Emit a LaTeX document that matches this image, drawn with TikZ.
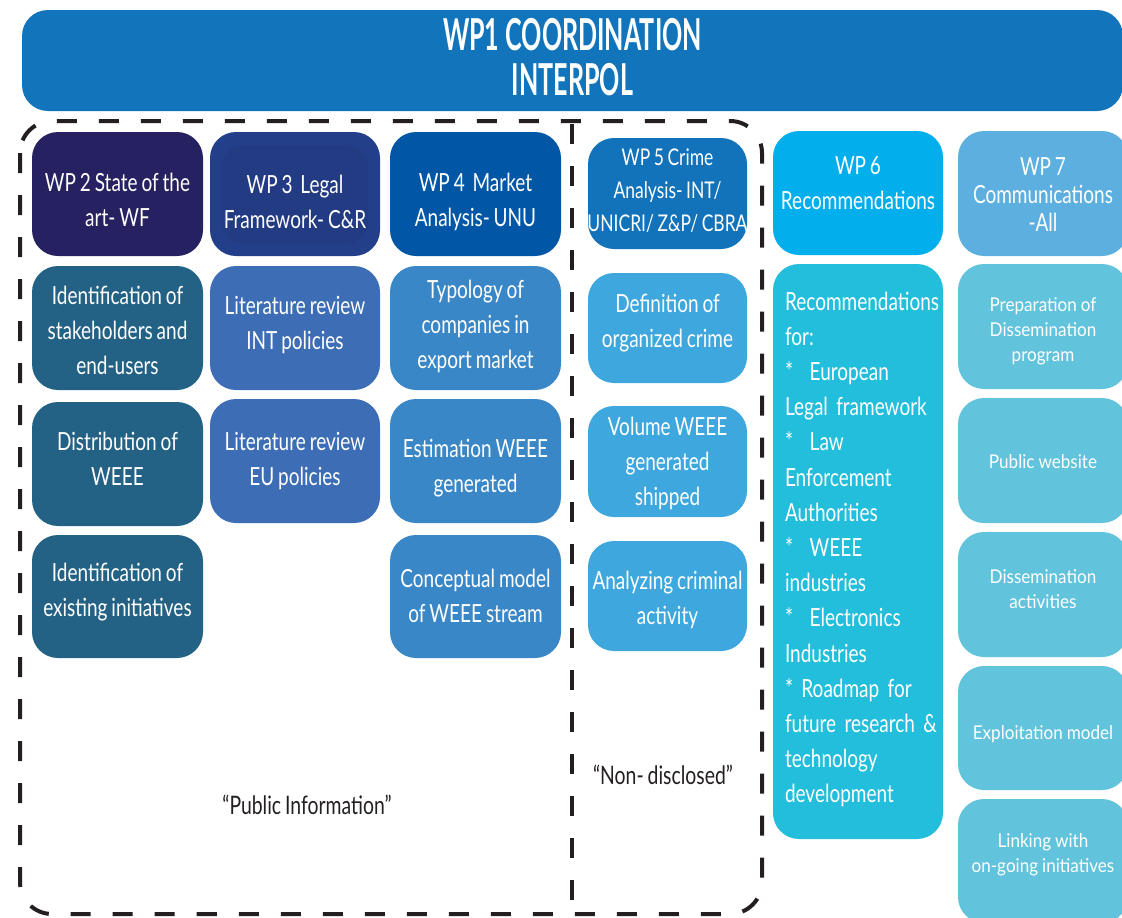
\documentclass[tikz,border=0pt]{standalone}
\usepackage{fontspec}
\setmainfont{Lato}
\newfontfamily\cond[FakeStretch=0.76,WordSpace=0.8]{Lato}
\newfontfamily\tcond[FakeStretch=0.57]{Lato}
\newfontfamily\semi[FakeStretch=0.9,WordSpace=0.9]{Lato}
\definecolor{ctitle}{HTML}{1275BC}
\definecolor{cwptwo}{HTML}{262160}
\definecolor{cone}{HTML}{236285}
\definecolor{cwpthree}{HTML}{243F8A}
\definecolor{cwpthreein}{HTML}{233B82}
\definecolor{ctwo}{HTML}{3D6DB5}
\definecolor{cwpfour}{HTML}{0157A6}
\definecolor{cthree}{HTML}{3A87C7}
\definecolor{cwpfive}{HTML}{1273BB}
\definecolor{cfour}{HTML}{3EA7DD}
\definecolor{cwpsix}{HTML}{02AEEB}
\definecolor{cfive}{HTML}{22BEDC}
\definecolor{cwpseven}{HTML}{5DAFE0}
\definecolor{csix}{HTML}{62C3DD}
\definecolor{cdash}{HTML}{231F20}
\begin{document}
\begin{tikzpicture}[x=1pt,y=-1pt,
  wpbox/.style={fill=#1, draw=none, rounded corners=26pt, inner sep=0pt},
  tx/.style={text=white, align=center, inner sep=0pt, font=\cond\fontsize{25}{35}\selectfont},
  smalltx/.style={tx, font=\semi\fontsize{19}{25}\selectfont},
  sz/.style n args={2}{minimum width=#1pt, minimum height=#2pt},
  dashline/.style={draw=cdash, line width=4pt, dash pattern=on 20pt off 22pt},
  plainlabel/.style={text=cdash, font=\cond\fontsize{25.5}{30}\selectfont, inner sep=0pt}
]
\useasboundingbox (0,0) rectangle (1122,918);
\clip (0,0) rectangle (1122,918);

% title
\node[wpbox=ctitle, sz={1101}{101}] (wp1) at (572.5,60.5) {};
\node[tx, font=\tcond\bfseries\fontsize{44}{45}\selectfont] (wp1t) at ([yshift=3.5pt]wp1.center)
  {WP1 COORDINATION\\INTERPOL};

% dashed frames
\draw[dashline, rounded corners=32pt] (20,121) rectangle (762,914);
\coordinate (divtop) at (572,124);
\coordinate (divbot) at (572,914);
\draw[dashline] (divtop) -- (divbot);

% column 1
\node[wpbox=cwptwo, sz={171}{124}] (wp2) at (117.5,194) {};
\node[tx] (wp2t) at ([yshift=-6pt]wp2.center) {WP 2 State of the\\art- WF};
\node[wpbox=cone, sz={171}{124}] (a1) at (117.5,328) {};
\node[tx] (a1t) at ([yshift=-2pt]a1.center) {Identification of\\stakeholders and\\end-users};
\node[wpbox=cone, sz={171}{124}] (a2) at (117.5,464) {};
\node[tx] (a2t) at ([yshift=5pt]a2.center) {Distribution of\\WEEE};
\node[wpbox=cone, sz={171}{123}] (a3) at (117.5,596.5) {};
\node[tx] (a3t) at ([yshift=4pt]a3.center) {Identification of\\existing initiatives};

% column 2
\node[wpbox=cwpthree, sz={170}{124}] (wp3) at (295,194) {};
\fill[cwpthreein, rounded corners=22pt] (222,145) rectangle (368,244);
\node[tx] (wp3t) at ([yshift=-8pt]wp3.center) {WP 3~ Legal\\Framework- C\&R};
\node[wpbox=ctwo, sz={170}{124}] (b1) at (295,328) {};
\node[tx] (b1t) at ([yshift=3pt]b1.center) {Literature review\\INT policies};
\node[wpbox=ctwo, sz={170}{124}] (b2) at (295,461) {};
\node[tx] (b2t) at (b2.center) {Literature review\\EU policies};

% column 3
\node[wpbox=cwpfour, sz={171}{124}] (wp4) at (475.5,194) {};
\node[tx] (wp4t) at ([yshift=-8pt]wp4.center) {WP 4~ Market\\Analysis- UNU};
\node[wpbox=cthree, sz={171}{124}] (d1) at (475.5,328) {};
\node[tx] (d1t) at ([yshift=2pt]d1.center) {Typology of\\companies in\\export market};
\node[wpbox=cthree, sz={171}{124}] (d2) at (475.5,461) {};
\node[tx] (d2t) at ([yshift=-7pt]d2.center) {Estimation WEEE\\generated};
\node[wpbox=cthree, sz={171}{123}] (d3) at (475.5,596.5) {};
\node[tx] (d3t) at ([yshift=1pt]d3.center) {Conceptual model\\of WEEE stream};

% column 4
\node[wpbox=cwpfive, sz={159}{111}] (wp5) at (667.5,193.5) {};
\node[tx, font=\cond\fontsize{23}{33}\selectfont] (wp5t) at ([yshift=3pt]wp5.center)
  {WP 5 Crime\\Analysis- INT/\\UNICRI/ Z\&P/ CBRA};
\node[wpbox=cfour, sz={159}{110}] (e1) at (667.5,328) {};
\node[tx] (e1t) at ([yshift=5pt]e1.center) {Definition of\\organized crime};
\node[wpbox=cfour, sz={159}{111}] (e2) at (667.5,461.5) {};
\node[tx] (e2t) at ([yshift=-2pt]e2.center) {Volume WEEE\\generated\\shipped};
\node[wpbox=cfour, sz={159}{110}] (e3) at (667.5,596) {};
\node[tx] (e3t) at ([yshift=-4pt]e3.center) {Analyzing criminal\\activity};

% column 5
\node[wpbox=cwpsix, sz={170}{124}] (wp6) at (858,193) {};
\node[tx] (wp6t) at ([yshift=10pt]wp6.center) {WP 6\\Recommendations};
\node[wpbox=cfive, sz={170}{575}] (f1) at (858,551.5) {};
\node[tx, align=left, text width=158pt, font=\cond\fontsize{25}{35.2}\selectfont] (f1t)
  at ([xshift=6pt, yshift=2pt]f1.center)
  {Recommendations\\for:\\{*}~~European\\Legal framework\\{*}~~Law\\Enforcement\\Authorities\\{*}~~WEEE\\industries\\{*}~~Electronics\\Industries\\{*} Roadmap for\\future research \&\\technology\\development};

% column 6
\node[wpbox=cwpseven, sz={170}{125}] (wp7) at (1043,193.5) {};
\node[tx, font=\cond\fontsize{25}{28}\selectfont] (wp7t) at ([yshift=-1pt]wp7.center) {WP 7\\Communications\\-All};
\node[wpbox=csix, sz={170}{125}] (g1) at (1043,326.5) {};
\node[smalltx] (g1t) at ([yshift=-5pt]g1.center) {Preparation of\\Dissemination\\program};
\node[wpbox=csix, sz={170}{125}] (g2) at (1043,460.5) {};
\node[smalltx] (g2t) at ([yshift=-1pt]g2.center) {Public website};
\node[wpbox=csix, sz={170}{125}] (g3) at (1043,594.5) {};
\node[smalltx] (g3t) at ([yshift=5pt]g3.center) {Dissemination\\activities};
\node[wpbox=csix, sz={170}{124}] (g4) at (1043,728) {};
\node[smalltx] (g4t) at ([yshift=-6pt]g4.center) {Exploitation model};
\node[wpbox=csix, sz={170}{124}] (g5) at (1043,861) {};
\node[smalltx] (g5t) at ([yshift=6pt]g5.center) {Linking with\\on-going initiatives};

% labels
\node[plainlabel] (pub) at (307,805) {“Public Information”};
\node[plainlabel] (nondis) at (663,775) {“Non- disclosed”};
\end{tikzpicture}
\end{document}
